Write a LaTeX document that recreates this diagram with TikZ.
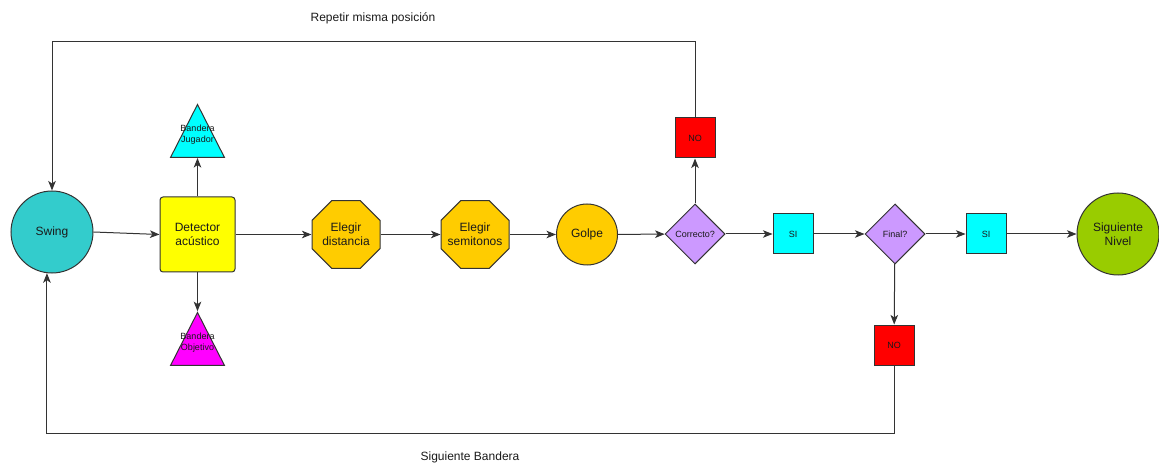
\documentclass[tikz,border=0pt]{standalone}
\usepackage{fontspec}
\setmainfont{Liberation Sans}
\usetikzlibrary{shapes.geometric,arrows.meta}
\definecolor{swingc}{HTML}{33CCCC}
\definecolor{golpec}{HTML}{FFCC00}
\definecolor{diac}{HTML}{CC99FF}
\definecolor{nivelc}{HTML}{99CC00}
\definecolor{cyanc}{HTML}{00FFFF}
\definecolor{magc}{HTML}{FF00FF}
\definecolor{yelc}{HTML}{FFFF00}
\definecolor{redc}{HTML}{FF0000}
\definecolor{txt}{HTML}{1A1A1A}
\definecolor{edge}{HTML}{333333}
\tikzset{
  big/.style={font=\fontsize{6}{7.2}\selectfont, text=txt, align=center},
  small/.style={font=\fontsize{4.5}{5.6}\selectfont, text=txt, align=center},
  box/.style={draw=edge, line width=0.5pt},
  circ/.style={box, circle, inner sep=0pt, big},
  octo/.style={box, regular polygon, regular polygon sides=8, minimum size=36.8pt, inner sep=0pt, fill=golpec, label={[big, anchor=center]center:{#1}}},
  dia/.style={box, diamond, minimum width=30pt, minimum height=30pt, inner sep=0pt, fill=diac, small},
  sq/.style={box, rectangle, minimum width=20pt, minimum height=20pt, inner sep=0pt, small},
  tri/.style={box, isosceles triangle, isosceles triangle stretches, shape border rotate=90, minimum width=27pt, minimum height=26.5pt, inner sep=0pt, label={[small, anchor=center, yshift=3pt]center:{#1}}},
  conn/.style={draw=edge, line width=0.5pt, -{Stealth[length=4.8pt,width=3.8pt,inset=1.3pt]}},
  lbl/.style={font=\fontsize{6}{7.2}\selectfont, text=txt}
}
\begin{document}
\begin{tikzpicture}[x=0.5pt,y=-0.5pt]
\useasboundingbox (0,0) rectangle (1159,464);
\node[circ, minimum size=41pt, fill=swingc] (swing) at (52,232) {Swing};
\node[box, big, rectangle, rounded corners=1.5pt, minimum width=37.5pt, minimum height=37.5pt, inner sep=0pt, fill=yelc] (det) at (197.5,234.5) {Detector\\acústico};
\node[tri={Bandera\\Jugador}, fill=cyanc, anchor=south] (bj) at (197.5,158) {};
\node[tri={Bandera\\Objetivo}, fill=magc, anchor=south] (bo) at (197.5,366) {};
\node[octo={Elegir\\distancia}] (dist) at (346,234.5) {};
\node[octo={Elegir\\semitonos}] (semi) at (475,234.5) {};
\node[circ, minimum size=30.5pt, fill=golpec] (golpe) at (587,234.5) {Golpe};
\node[dia] (corr) at (695,234) {Correcto?};
\node[sq, fill=redc] (no1) at (695,138) {NO};
\node[sq, fill=cyanc] (si1) at (793,234) {SI};
\node[dia] (fin) at (895,234) {Final?};
\node[sq, fill=cyanc] (si2) at (986,234) {SI};
\node[sq, fill=redc] (no2) at (894,345) {NO};
\node[circ, minimum size=41pt, fill=nivelc] (nivel) at (1118,234) {Siguiente\\Nivel};
\node[lbl] (rep) at (373,18) {Repetir misma posición};
\node[lbl] (sigb) at (470,457) {Siguiente Bandera};

\draw[conn] (swing.east) -- (det.west);
\draw[conn] (det.north) -- (bj.south);
\draw[conn] (det.south) -- (bo.north);
\draw[conn] (det.east) -- (dist.east -| dist.west);
\draw[conn] (dist) -- (semi);
\draw[conn] (semi) -- (golpe);
\draw[conn] (golpe) -- (corr);
\draw[conn] (corr) -- (si1);
\draw[conn] (corr) -- (no1);
\draw[conn] (si1) -- (fin);
\draw[conn] (fin) -- (si2);
\draw[conn] (si2) -- (nivel);
\draw[conn] (fin) -- (no2);
\draw[conn] (no1.north) -- ++(0,-76) -| (swing.north);
\draw[conn] (no2.south) -- ++(0,68) -| (swing.263);
\end{tikzpicture}
\end{document}
